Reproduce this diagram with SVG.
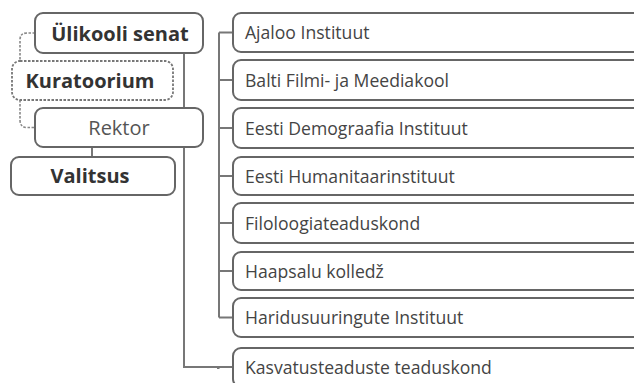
<svg xmlns="http://www.w3.org/2000/svg" width="634" height="383" viewBox="0 0 634 383">
<style>
.box{fill:#fff;stroke:#666;stroke-width:2}
.dbox{fill:#fff;stroke:#777;stroke-width:1.8;stroke-dasharray:2.5 1.5}
.con{fill:none;stroke:#777;stroke-width:2}
.dcon{fill:none;stroke:#888;stroke-width:1.6;stroke-dasharray:2.5 1.5}
.b{font-family:"Open Sans",sans-serif;font-weight:bold;font-size:20px;fill:#333;text-anchor:middle}
.n{font-family:"Open Sans",sans-serif;font-size:20px;fill:#555;text-anchor:middle}
.t{font-family:"Open Sans",sans-serif;font-size:17.6px;fill:#444}
</style>
<rect width="634" height="383" fill="#fff"/>
<g id="connectors">
<path class="dcon" d="M35,33 H27 Q20,33 20,40 V61"/>
<path class="dcon" d="M20,100 V120 Q20,127.5 27,127.5 H35"/>
<path class="con" d="M92,147 V157"/>
<path class="con" d="M184,53 V367 H233"/>
<path class="con" d="M219,32.5 V317.5"/>
<path class="con" d="M219,32.5 H233 M219,80 H233 M219,128 H233 M219,176 H233 M219,223 H233 M219,271 H233 M219,317.5 H233"/>
<rect x="217" y="366" width="2.5" height="3" fill="#777"/>
</g>
<g id="senat"><rect class="box" x="35" y="13" width="168" height="40" rx="8"/><text class="b" x="120" y="40.5">Ülikooli senat</text></g>
<g id="kuratoorium"><rect class="dbox" x="12" y="61" width="161" height="39" rx="8"/><text class="b" x="90" y="87.5">Kuratoorium</text></g>
<g id="rektor"><rect class="box" x="35" y="108" width="168" height="39" rx="8"/><text class="n" x="119" y="134.5">Rektor</text></g>
<g id="valitsus"><rect class="box" x="11" y="157" width="164" height="38" rx="8"/><text class="b" x="90" y="183">Valitsus</text></g>
<g id="ajaloo"><rect class="box" x="233" y="13" width="408" height="39" rx="8"/><text class="t" x="245" y="39">Ajaloo Instituut</text></g>
<g id="balti"><rect class="box" x="233" y="60" width="408" height="40" rx="8"/><text class="t" x="245" y="86.5">Balti Filmi- ja Meediakool</text></g>
<g id="demograafia"><rect class="box" x="233" y="108" width="408" height="40" rx="8"/><text class="t" x="245" y="134.5">Eesti Demograafia Instituut</text></g>
<g id="humanitaar"><rect class="box" x="233" y="157" width="408" height="38" rx="8"/><text class="t" x="245" y="182.5">Eesti Humanitaarinstituut</text></g>
<g id="filoloogia"><rect class="box" x="233" y="203" width="408" height="40" rx="8"/><text class="t" x="245" y="229.5">Filoloogiateaduskond</text></g>
<g id="haapsalu"><rect class="box" x="233" y="252" width="408" height="38" rx="8"/><text class="t" x="245" y="277.5">Haapsalu kolledž</text></g>
<g id="haridus"><rect class="box" x="233" y="298" width="408" height="39" rx="8"/><text class="t" x="245" y="324">Haridusuuringute Instituut</text></g>
<g id="kasvatus"><rect class="box" x="233" y="348" width="408" height="39" rx="8"/><text class="t" x="245" y="374">Kasvatusteaduste teaduskond</text></g>
</svg>
